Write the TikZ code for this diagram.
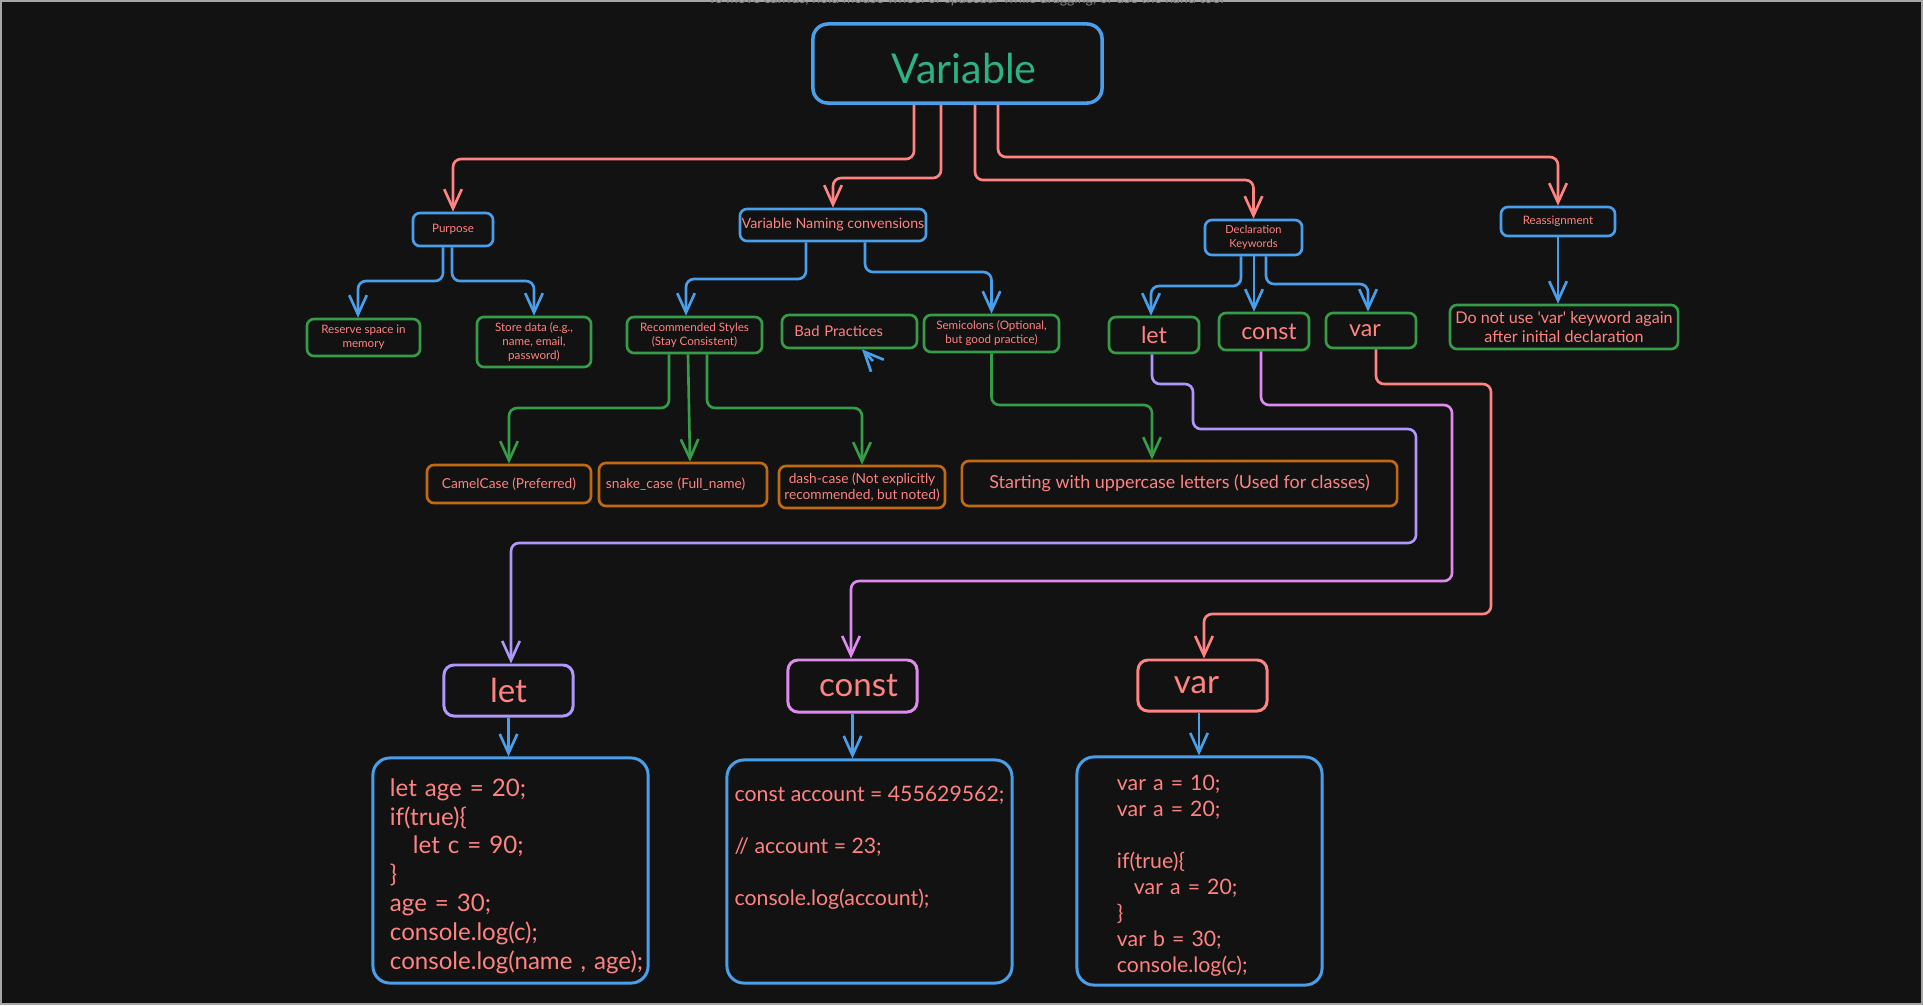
\documentclass[tikz,border=0pt]{standalone}
\usepackage{fontspec}
\setmainfont{Lato}[Ligatures=TeXOff]
\usetikzlibrary{arrows.meta}

\definecolor{bgcol}{HTML}{121212}
\definecolor{salmon}{HTML}{FF8383}
\definecolor{skyblue}{HTML}{4A9FEA}
\definecolor{leaf}{HTML}{369C48}
\definecolor{amber}{HTML}{C06A12}
\definecolor{teal}{HTML}{2DB281}
\definecolor{lilac}{HTML}{B097FA}
\definecolor{orchid}{HTML}{DE8BF0}

\newcommand{\fsz}[2]{\fontsize{#1pt}{#2pt}\selectfont}

\tikzset{
  box/.style={draw, rounded corners=0.07cm, line width=0.75pt, text=salmon, inner sep=0pt, align=center},
  bluebox/.style={box, draw=skyblue},
  greenbox/.style={box, draw=leaf},
  orangebox/.style={box, draw=amber},
  tiny/.style={font=\fsz{3.3}{4}},
  arr/.style={line width=0.75pt, rounded corners=0.08cm, -{Straight Barb[length=5.5pt,width=5pt]}},
}

\begin{document}
\begin{tikzpicture}[x=0.01cm, y=-0.01cm]
\path[use as bounding box, fill=bgcol] (0,0) rectangle (1923,1005);
\draw[line width=0.6pt, gray!70] (1,1) rectangle (1922,1004);
\node[anchor=base, text=gray, font=\fsz{4}{5}] (hint) at (966,3) {To move canvas, hold mouse wheel or spacebar while dragging, or use the hand tool};

\node[bluebox, line width=1pt, rounded corners=0.15cm, minimum width=2.89cm, minimum height=0.79cm, text=teal, font=\fsz{11.7}{14}] (variable) at (957.5,63.5) {\raisebox{-0.05cm}[\height][\depth]{\hspace*{0.13cm}Variable}};

\node[bluebox, tiny, minimum width=0.80cm, minimum height=0.33cm] (purpose) at (453,229.5) {Purpose};
\node[bluebox, font=\fsz{4.05}{5}, minimum width=1.86cm, minimum height=0.32cm] (naming) at (833,225) {Variable Naming convensions};
\node[bluebox, font=\fsz{3.15}{3.9}, minimum width=0.97cm, minimum height=0.35cm] (decl) at (1253.5,237.5) {Declaration\\Keywords};
\node[bluebox, tiny, minimum width=1.14cm, minimum height=0.29cm] (reass) at (1558,221.5) {Reassignment};

\node[greenbox, tiny, minimum width=1.13cm, minimum height=0.37cm] (reserve) at (363.5,337.5) {Reserve space in\\memory};
\node[greenbox, tiny, minimum width=1.14cm, minimum height=0.50cm] (store) at (534,342) {Store data (e.g.,\\name, email,\\password)};
\node[greenbox, tiny, minimum width=1.35cm, minimum height=0.36cm] (recom) at (694.5,335) {Recommended Styles\\(Stay Consistent)};
\node[greenbox, font=\fsz{4.2}{5}, align=left, text width=1.1cm, minimum width=1.35cm, minimum height=0.33cm] (bad) at (849.5,331.5) {Bad Practices};
\node[greenbox, tiny, minimum width=1.35cm, minimum height=0.37cm] (semi) at (991.5,333.5) {Semicolons (Optional,\\but good practice)};
\node[greenbox, font=\fsz{6.6}{8}, minimum width=0.90cm, minimum height=0.36cm] (letk) at (1154,335) {let};
\node[greenbox, font=\fsz{6.6}{8}, minimum width=0.90cm, minimum height=0.37cm] (constk) at (1264,331.5) {\hspace*{0.1cm}const};
\node[greenbox, font=\fsz{6.6}{8}, minimum width=0.90cm, minimum height=0.35cm] (vark) at (1371,330.5) {var\hspace*{0.12cm}};
\node[greenbox, font=\fsz{4.6}{5.4}, minimum width=2.28cm, minimum height=0.44cm] (dontuse) at (1564,327) {Do not use 'var' keyword again\\after initial declaration};

\node[orangebox, font=\fsz{3.9}{4.7}, minimum width=1.64cm, minimum height=0.38cm] (camel) at (509,484) {CamelCase (Preferred)};
\node[orangebox, font=\fsz{3.9}{4.7}, align=left, text width=1.54cm, minimum width=1.68cm, minimum height=0.43cm] (snake) at (683,484.5) {snake\_case (Full\_name)};
\node[orangebox, font=\fsz{3.9}{4.7}, minimum width=1.66cm, minimum height=0.42cm] (dash) at (862,487) {dash-case (Not explicitly\\recommended, but noted)};
\node[orangebox, font=\fsz{5.1}{6}, minimum width=4.35cm, minimum height=0.45cm] (upper) at (1179.5,483.5) {Starting with uppercase letters (Used for classes)};

\node[box, draw=lilac, rounded corners=0.1cm, line width=0.85pt, font=\fsz{9.4}{11}, minimum width=1.29cm, minimum height=0.51cm] (letb) at (508.5,690.5) {let};
\node[box, draw=orchid, rounded corners=0.1cm, line width=0.85pt, font=\fsz{9.4}{11}, minimum width=1.29cm, minimum height=0.52cm] (constb) at (852.5,686) {\hspace*{0.12cm}const};
\node[box, draw=salmon, rounded corners=0.1cm, line width=0.85pt, font=\fsz{9.4}{11}, minimum width=1.29cm, minimum height=0.51cm] (varb) at (1202.5,685.5) {var\hspace*{0.12cm}};

\node[bluebox, align=left, text width=2.41cm, rounded corners=0.17cm, line width=0.85pt, font=\fsz{6.85}{8.2}, minimum width=2.75cm, minimum height=2.25cm] (letcode) at (510.5,870.5)
  {\rule{0pt}{0.29cm}let age = 20;\\ if(true)\{\\ \hspace*{0.23cm}let c = 90;\\ \}\\ age = 30;\\ console.log(c);\\ \mbox{console.log(name , age);}};
\node[bluebox, align=left, rounded corners=0.17cm, line width=0.85pt, font=\fsz{6.05}{7.4}, minimum width=2.85cm, minimum height=2.23cm] (constcode) at (869.5,871.5)
  {const account = 455629562;\\ \mbox{}\\ // account = 23;\\ \mbox{}\\ console.log(account);\\ \mbox{}\\ \mbox{}};
\node[bluebox, align=left, text width=1.65cm, rounded corners=0.17cm, line width=0.85pt, font=\fsz{6.05}{7.4}, minimum width=2.45cm, minimum height=2.28cm] (varcode) at (1199.5,871)
  {\rule{0pt}{0.25cm}var a = 10;\\ var a = 20;\\ \mbox{}\\ if(true)\{\\ \hspace*{0.17cm}var a = 20;\\ \}\\ var b = 30;\\ console.log(c);};

\foreach \x/\y/\n in {914/159/purpose, 941/178/naming, 975/180/decl, 998/157/reass}
  \draw[arr, salmon] (\x,0 |- variable.south) |- (\n.north |- 0,\y) -- (\n.north);

\draw[arr, skyblue] (443,0 |- purpose.south) |- (358,281) -- (358,0 |- reserve.north);
\draw[arr, skyblue] (452,0 |- purpose.south) |- (store.north |- 0,281) -- (store.north);
\draw[arr, skyblue] (806,0 |- naming.south) |- (686,279) -- (686,0 |- recom.north);
\draw[arr, skyblue] (865,0 |- naming.south) |- (semi.north |- 0,272) -- (semi.north);
\draw[arr, skyblue] (1241,0 |- decl.south) |- (1151,286) -- (1151,0 |- letk.north);
\draw[arr, skyblue] (1254,0 |- decl.south) -- (1254,0 |- constk.north);
\draw[arr, skyblue] (1266,0 |- decl.south) |- (1368,284) -- (1368,0 |- vark.north);
\draw[arr, skyblue] (reass.south) -- (reass.south |- dontuse.north);

\coordinate (tail) at (873,361);
\draw[arr, skyblue] (tail) -- (862,0 |- bad.south);

\draw[arr, leaf] (669,0 |- recom.south) |- (camel.north |- 0,408) -- (camel.north);
\draw[arr, leaf] (688,0 |- recom.south) -- (690,0 |- snake.north);
\draw[arr, leaf] (707,0 |- recom.south) |- (dash.north |- 0,408) -- (dash.north);
\draw[arr, leaf] (semi.south) |- (1152,405) -- (1152,0 |- upper.north);

\draw[arr, lilac] (1152,0 |- letk.south) |- (1193,384) |- (1416,429) |- (511,543) -- (511,0 |- letb.north);
\draw[arr, orchid] (1261,0 |- constk.south) |- (1452,405) |- (851,581) -- (851,0 |- constb.north);
\draw[arr, salmon] (1376,0 |- vark.south) |- (1491,384) |- (1204,614) -- (1204,0 |- varb.north);

\draw[arr, skyblue] (letb.south) -- (letb.south |- letcode.north);
\draw[arr, skyblue] (constb.south) -- (constb.south |- constcode.north);
\draw[arr, skyblue] (1199,0 |- varb.south) -- (1199,0 |- varcode.north);
\end{tikzpicture}
\end{document}
